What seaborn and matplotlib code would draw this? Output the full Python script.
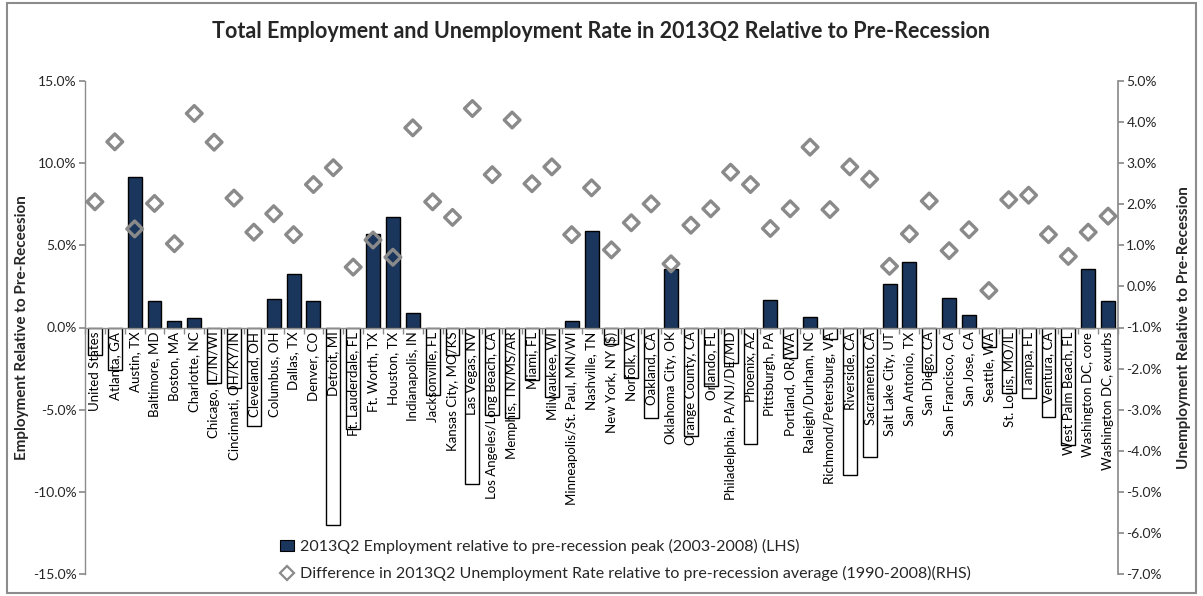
import numpy as np
import pandas as pd
import matplotlib
matplotlib.use("Agg")
import matplotlib.pyplot as plt
import seaborn as sns
from matplotlib.ticker import PercentFormatter, FixedLocator
from matplotlib.patches import Patch, Rectangle
from matplotlib.lines import Line2D

cities = [
    "United States", "Atlanta, GA", "Austin, TX", "Baltimore, MD", "Boston, MA",
    "Charlotte, NC", "Chicago, IL/IN/WI", "Cincinnati, OH/KY/IN", "Cleveland, OH",
    "Columbus, OH", "Dallas, TX", "Denver, CO", "Detroit, MI", "Ft. Lauderdale, FL",
    "Ft. Worth, TX", "Houston, TX", "Indianapolis, IN", "Jacksonville, FL",
    "Kansas City, MO/KS", "Las Vegas, NV", "Los Angeles/Long Beach, CA",
    "Memphis, TN/MS/AR", "Miami, FL", "Milwaukee, WI", "Minneapolis/St. Paul, MN/WI",
    "Nashville, TN", "New York, NY ($)", "Norfolk, VA", "Oakland, CA",
    "Oklahoma City, OK", "Orange County, CA", "Orlando, FL",
    "Philadelphia, PA/NJ/DE/MD", "Phoenix, AZ", "Pittsburgh, PA", "Portland, OR/WA",
    "Raleigh/Durham, NC", "Richmond/Petersburg, VA", "Riverside, CA", "Sacramento, CA",
    "Salt Lake City, UT", "San Antonio, TX", "San Diego, CA", "San Francisco, CA",
    "San Jose, CA", "Seattle, WA", "St. Louis, MO/IL", "Tampa, FL", "Ventura, CA",
    "West Palm Beach, FL", "Washington DC, core", "Washington DC, exurbs",
]

employment = [
    -1.7, -2.6, 9.15, 1.6, 0.4, 0.6, -3.4, -3.7, -6.0, 1.72, 3.27, 1.6, -12.0, -6.2,
    5.68, 6.71, 0.89, -4.1, -1.7, -9.55, -5.3, -5.5, -3.2, -4.2, 0.38, 5.86, -1.03,
    -3.06, -5.5, 3.55, -6.6, -3.55, -2.17, -7.1, 1.69, -1.85, 0.63, -0.69, -9.0,
    -7.9, 2.62, 3.96, -2.68, 1.78, 0.79, -1.16, -4.0, -4.28, -5.46, -7.18, 3.59, 1.64,
]

unemployment = [
    2.06, 3.52, 1.40, 2.02, 1.04, 4.21, 3.51, 2.15, 1.32, 1.77, 1.26, 2.48, 2.89, 0.47,
    1.13, 0.71, 3.86, 2.06, 1.68, 4.33, 2.72, 4.05, 2.50, 2.91, 1.26, 2.40, 0.89,
    1.55, 2.01, 0.55, 1.49, 1.89, 2.78, 2.48, 1.41, 1.89, 3.39, 1.87, 2.91, 2.61,
    0.49, 1.28, 2.08, 0.87, 1.38, -0.10, 2.11, 2.22, 1.26, 0.73, 1.32, 1.71,
]

left_ticks = [15, 10, 5, 0, -5, -10, -15]
right_ticks = [5, 4, 3, 2, 1, 0, -1, -2, -3, -4, -5, -6, -7]

title = "Total Employment and Unemployment Rate in 2013Q2 Relative to Pre-Recession"
left_label = "Employment Relative to Pre-Receesion"
right_label = "Unemployment Relative to Pre-Recession"
legend_labels = [
    "2013Q2 Employment relative to pre-recession peak (2003-2008) (LHS)",
    "Difference in 2013Q2 Unemployment Rate relative to pre-recession average (1990-2008)(RHS)",
]

NAVY = "#1B365D"
GRAY = "#8A8A8A"
AXGRAY = "#8C8C8C"

sns.set_theme(style="white")
plt.rcParams["font.family"] = ["Lato", "DejaVu Sans"]
plt.rcParams["axes.unicode_minus"] = False

df = pd.DataFrame({"city": cities, "emp": employment, "unemp": unemployment})
df["pos"] = np.arange(len(df))

fig = plt.figure(figsize=(12.03, 5.96), dpi=100)
ax = fig.add_axes([85 / 1203, 1 - 574 / 596, (1118 - 85) / 1203, (574 - 81) / 596])

sns.barplot(data=df, x="city", y="emp", ax=ax, color=NAVY, width=0.7,
            edgecolor="black", linewidth=1.0, saturation=1)
for patch, v in zip(ax.patches, employment):
    if v < 0:
        patch.set_facecolor("white")

ax.set_ylim(-15, 15)
ax.set_xlim(-0.5, len(cities) - 0.5)
ax.yaxis.set_major_locator(FixedLocator(left_ticks))
ax.yaxis.set_major_formatter(PercentFormatter(xmax=100, decimals=1))
ax.set_xlabel("")
ax.set_ylabel(left_label, fontsize=11, fontweight="bold")
ax.yaxis.set_label_coords((29 - 85) / 1033, 0.5)
ax.spines["bottom"].set_position(("data", 0))
ax.spines["top"].set_visible(False)
ax.spines["right"].set_visible(False)
for s in ["left", "bottom"]:
    ax.spines[s].set_color(AXGRAY)
    ax.spines[s].set_linewidth(1.0)
ax.set_xticks(np.arange(len(cities)))
ax.set_xticklabels(cities, rotation=90, fontsize=9.5, color="black")
ax.tick_params(axis="x", which="major", length=0, pad=3)
ax.set_xticks(np.arange(len(cities) + 1) - 0.5, minor=True)
ax.tick_params(axis="x", which="minor", length=4, color=AXGRAY, direction="out", bottom=True)
ax.tick_params(axis="y", length=4, color=AXGRAY, direction="out", left=True, labelsize=10, pad=2)
ax.set_axisbelow(False)
ax.grid(False)

ax2 = ax.twinx()
sns.scatterplot(data=df, x="pos", y="unemp", ax=ax2, marker="D", s=64,
                facecolors="none", edgecolor=GRAY, linewidth=2.4, zorder=5)
ax2.collections[-1].set_facecolor("none")
ax2.set_ylim(-7, 5)
ax2.set_xlim(-0.5, len(cities) - 0.5)
ax2.yaxis.set_major_locator(FixedLocator(right_ticks))
ax2.yaxis.set_major_formatter(PercentFormatter(xmax=100, decimals=1))
ax2.set_ylabel(right_label, fontsize=11, fontweight="bold")
ax2.yaxis.set_label_coords((1177 - 85) / 1033, 0.5)
ax2.set_xlabel("")
for s in ["top", "left", "bottom"]:
    ax2.spines[s].set_visible(False)
ax2.spines["right"].set_color(AXGRAY)
ax2.tick_params(axis="y", length=4, color=AXGRAY, direction="out", right=True, labelsize=10, pad=2)
ax2.grid(False)

fig.suptitle(title, x=0.5, y=1 - 32 / 596, va="center", fontsize=15.5, fontweight="bold")

handles = [
    Patch(facecolor=NAVY, edgecolor="black", linewidth=0.8),
    Line2D([], [], marker="D", linestyle="", markersize=7, markerfacecolor="none",
           markeredgecolor=GRAY, markeredgewidth=1.6),
]
leg = ax.legend(handles, legend_labels, loc="upper left",
                bbox_to_anchor=(272 / 1203, 1 - 531 / 596), bbox_transform=fig.transFigure,
                frameon=False, fontsize=11.5, handlelength=0.9, handletextpad=0.35,
                labelspacing=0.75, borderpad=0)

fig.add_artist(Rectangle((7 / 1203, 3 / 596), (1196 - 7) / 1203, (593 - 3) / 596,
                         transform=fig.transFigure, fill=False, edgecolor="#8C8C8C",
                         linewidth=1.5))

fig.savefig("out.png", dpi=100)
